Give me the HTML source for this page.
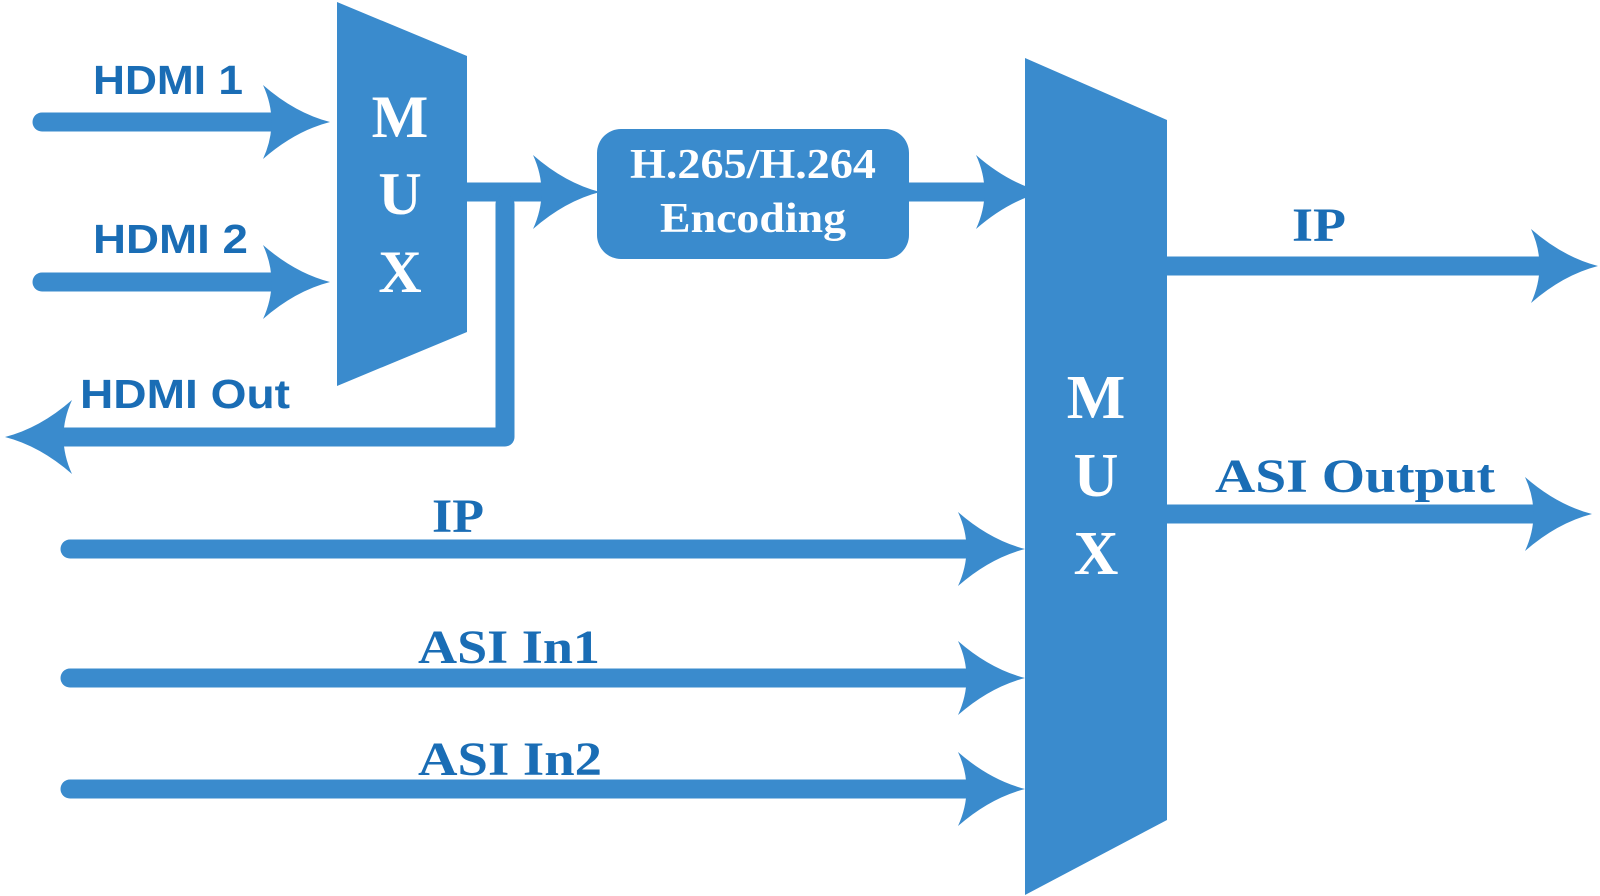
<!DOCTYPE html>
<html><head><meta charset="utf-8"><style>
html,body{margin:0;padding:0;background:#fff;}
svg{display:block;}
.s{font-family:"Liberation Sans",sans-serif;font-weight:bold;fill:#1a6db5;}
.t{font-family:"Liberation Serif",serif;font-weight:bold;fill:#1a6db5;}
.w{font-family:"Liberation Serif",serif;font-weight:bold;fill:#fff;}
</style></head><body>
<svg width="1600" height="896" viewBox="0 0 1600 896" xmlns="http://www.w3.org/2000/svg">
<defs>
<path id="ar" d="M0 0 Q-35 -9 -67 -37 Q-50 0 -67 37 Q-35 9 0 0 Z" fill="#3a8bcd"/>
</defs>
<g stroke="#3a8bcd" stroke-width="19" stroke-linecap="round" fill="none">
<line x1="42" y1="122" x2="280" y2="122"/>
<line x1="42" y1="282" x2="280" y2="282"/>
<line x1="460" y1="192" x2="555" y2="192"/>
<polyline points="505,204 505,437 60,437" stroke-linejoin="round"/>
<line x1="900" y1="192" x2="985" y2="192"/>
<line x1="1165" y1="266" x2="1545" y2="266"/>
<line x1="1162" y1="514" x2="1535" y2="514"/>
<line x1="70" y1="549" x2="980" y2="549"/>
<line x1="70" y1="678" x2="980" y2="678"/>
<line x1="70" y1="789" x2="980" y2="789"/>
</g>
<use href="#ar" transform="translate(330,122)"/>
<use href="#ar" transform="translate(330,282)"/>
<use href="#ar" transform="translate(600,192)"/>
<use href="#ar" transform="translate(5,437) scale(-1,1)"/>
<use href="#ar" transform="translate(1043,192)"/>
<use href="#ar" transform="translate(1598,266)"/>
<use href="#ar" transform="translate(1592,514)"/>
<use href="#ar" transform="translate(1025,549)"/>
<use href="#ar" transform="translate(1025,678)"/>
<use href="#ar" transform="translate(1025,789)"/>
<polygon points="337,2 467,56 467,332 337,386" fill="#3a8bcd"/>
<polygon points="1025,58 1167,120 1167,820 1025,895" fill="#3a8bcd"/>
<rect x="597" y="129" width="312" height="130" rx="24" fill="#3a8bcd"/>
<text class="w" x="400" y="137" font-size="60" text-anchor="middle">M</text>
<text class="w" x="400" y="214" font-size="60" text-anchor="middle">U</text>
<text class="w" x="400" y="292" font-size="60" text-anchor="middle">X</text>
<text class="w" x="1096" y="418" font-size="62" text-anchor="middle">M</text>
<text class="w" x="1096" y="496" font-size="62" text-anchor="middle">U</text>
<text class="w" x="1096" y="574" font-size="62" text-anchor="middle">X</text>
<text class="w" x="630" y="178" font-size="42" textLength="246" lengthAdjust="spacingAndGlyphs">H.265/H.264</text>
<text class="w" x="660" y="232" font-size="42" textLength="186" lengthAdjust="spacingAndGlyphs">Encoding</text>
<text class="s" x="93" y="94" font-size="41" textLength="150" lengthAdjust="spacingAndGlyphs">HDMI 1</text>
<text class="s" x="93" y="253" font-size="41" textLength="155" lengthAdjust="spacingAndGlyphs">HDMI 2</text>
<text class="s" x="80" y="408" font-size="41" textLength="210" lengthAdjust="spacingAndGlyphs">HDMI Out</text>
<text class="t" x="1292" y="241" font-size="48" textLength="54" lengthAdjust="spacingAndGlyphs">IP</text>
<text class="t" x="1215" y="492" font-size="48" textLength="280" lengthAdjust="spacingAndGlyphs">ASI Output</text>
<text class="t" x="432" y="532" font-size="48" textLength="52" lengthAdjust="spacingAndGlyphs">IP</text>
<text class="t" x="418" y="663" font-size="48" textLength="182" lengthAdjust="spacingAndGlyphs">ASI In1</text>
<text class="t" x="418" y="775" font-size="48" textLength="184" lengthAdjust="spacingAndGlyphs">ASI In2</text>
</svg>
</body></html>
